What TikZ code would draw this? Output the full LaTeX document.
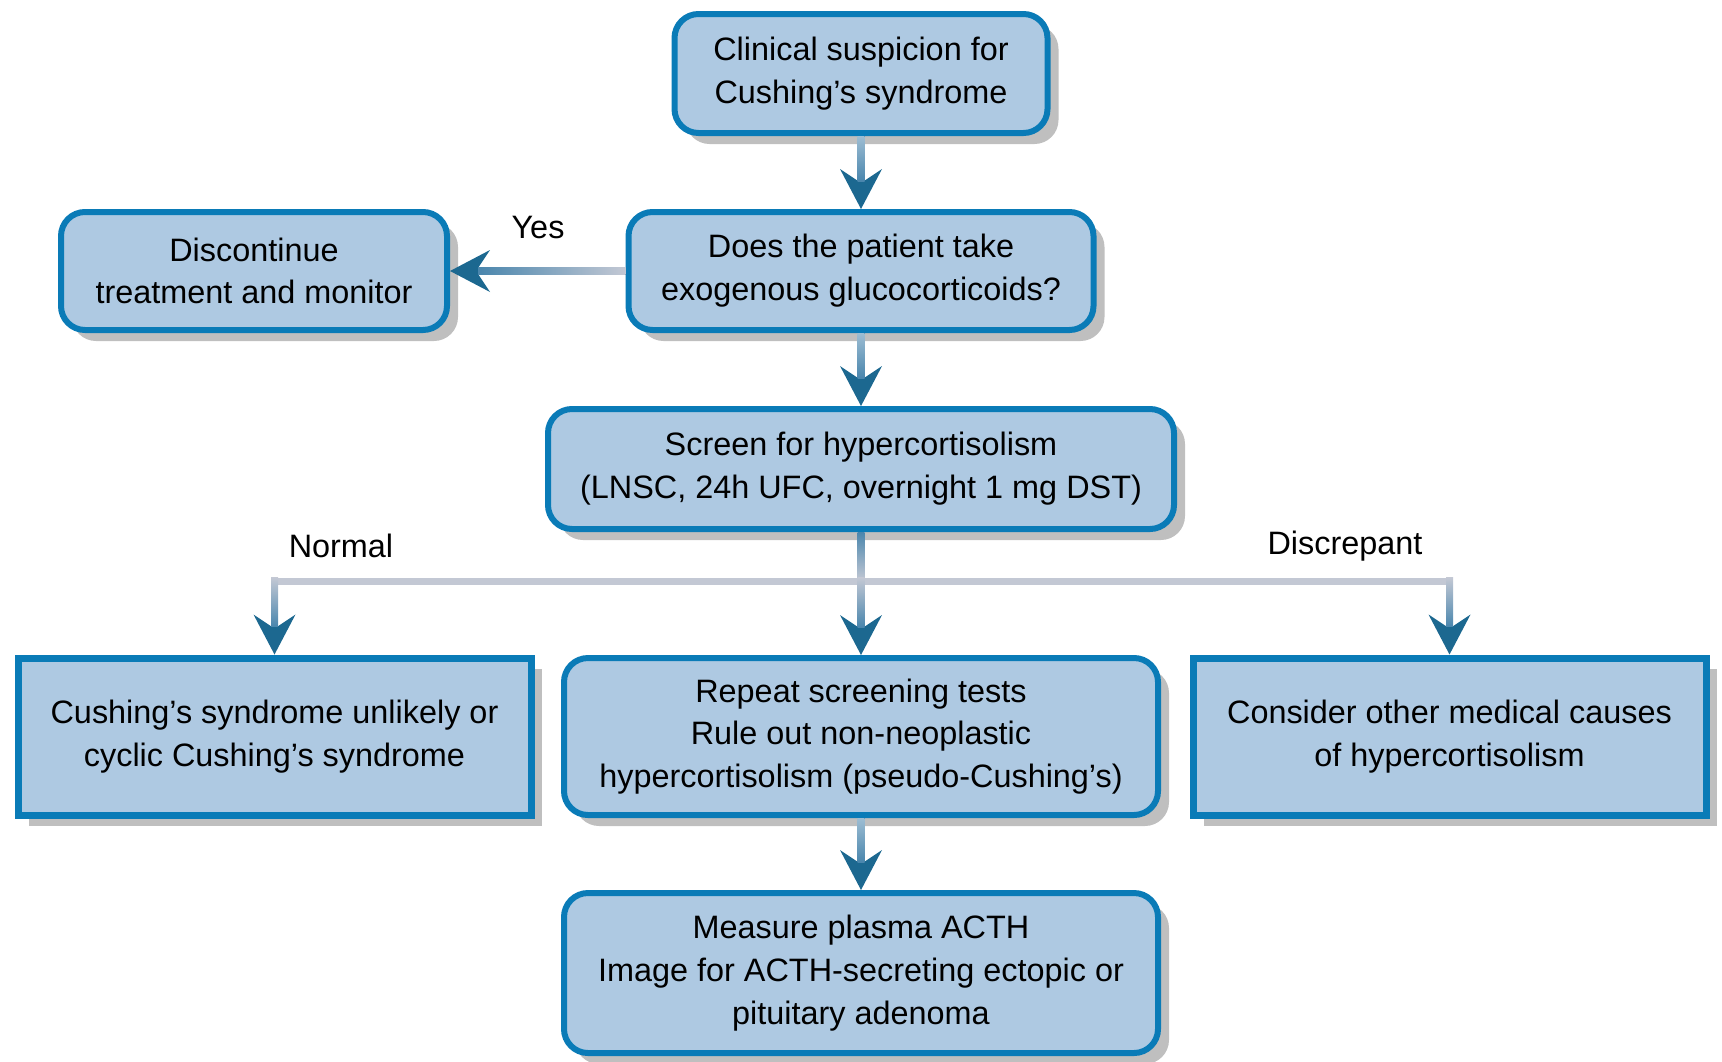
\documentclass[tikz,border=0pt]{standalone}
\usepackage{fontspec}
\setmainfont{Liberation Sans}
\usetikzlibrary{arrows.meta, calc, positioning, shadows}

\definecolor{boxfill}{HTML}{AEC9E2}
\definecolor{boxline}{HTML}{0A7BB7}
\definecolor{shadowgray}{HTML}{BFBFBF}
\definecolor{arrowdark}{HTML}{1C6890}
\definecolor{arrowmid}{HTML}{4A86AD}
\definecolor{arrowlight}{HTML}{9DBDD3}
\definecolor{shaftlight}{HTML}{C3C8D4}

\tikzset{
  box/.style={draw=boxline, fill=boxfill, line width=3pt, rounded corners=12pt,
    align=center, inner sep=4pt, font=\fontsize{16.2}{21.4}\selectfont,
    drop shadow={shadow xshift=5.5pt, shadow yshift=-5.5pt, fill=shadowgray, opacity=1}},
  sqbox/.style={box, sharp corners, line width=3.5pt},
  lbl/.style={font=\fontsize{16.2}{21.4}\selectfont},
  flow/.style={arrowdark, line width=3.5pt,
    -{Stealth[length=20pt, width=21pt, inset=7pt, line width=0pt]}},
  bar/.style={shaftlight, line width=3.5pt}
}

\begin{document}
\begin{tikzpicture}[x=0.5pt, y=-0.5pt]
        \useasboundingbox (0,0) rectangle (1722,1061);

        % boxes
        \node[box, minimum width=186.5pt, minimum height=59.5pt] (clin) at (861,73.5)
            {Clinical suspicion for\\Cushing’s syndrome};
        \node[box, minimum width=232.5pt, minimum height=59pt] (drug) at (861,271)
            {Does the patient take\\exogenous glucocorticoids?};
        \node[box, minimum width=193pt, minimum height=59pt] (stop) at (254,271)
            {Discontinue\\treatment and monitor};
        \node[box, minimum width=313pt, minimum height=60pt] (screen) at (861,469)
            {Screen for hypercortisolism\\(LNSC, 24h UFC, overnight 1 mg DST)};
        \node[sqbox, minimum width=256.5pt, minimum height=78.5pt] (unlikely) at (274.5,736.5)
            {Cushing’s syndrome unlikely or\\cyclic Cushing’s syndrome};
        \node[box, minimum width=297pt, minimum height=78.5pt] (retest) at (861,736.5)
            {Repeat screening tests\\Rule out non-neoplastic\\hypercortisolism (pseudo-Cushing’s)};
        \node[sqbox, minimum width=256.5pt, minimum height=78.5pt] (other) at (1449.5,736.5)
            {Consider other medical causes\\of hypercortisolism};
        \node[box, minimum width=297pt, minimum height=80pt] (acth) at (861,973)
            {Measure plasma ACTH\\Image for ACTH-secreting ectopic or\\pituitary adenoma};

        % labels
        \node[lbl] (yes) at (538,228) {Yes};
        \node[lbl] (normal) at (341,546) {Normal};
        \node[lbl] (discr) at (1345,546) {Discrepant};

        % branch points
        \coordinate (jn) at (861,581);
        \coordinate (jl) at (unlikely.north |- jn);
        \coordinate (jr) at (other.north |- jn);

        % straight arrows
        \foreach \a/\b in {clin/drug, drug/screen, retest/acth} {
            \draw[flow] (\a) -- (\b);
            \shade[top color=arrowlight, bottom color=arrowmid]
                ($(\a.south)+(-1.75pt,0)$) rectangle ($(\b.north)+(1.75pt,14pt)$);
        }

        % yes arrow
        \draw[flow] (drug) -- (stop);
        \shade[left color=arrowmid, right color=shaftlight]
            ($(stop.east)+(14pt,-1.75pt)$) rectangle ($(drug.west)+(0,1.75pt)$);

        % split after screening
        \draw[bar] (screen) -- (jn);
        \shade[top color=arrowmid, bottom color=shaftlight]
            ($(screen.south)+(-1.75pt,0)$) rectangle ($(jn)+(1.75pt,0)$);
        \draw[bar, line cap=rect] (jl) -- (jr);
        \foreach \p/\b in {jl/unlikely, jn/retest, jr/other} {
            \draw[flow] (\p) -- (\b);
            \shade[top color=shaftlight, bottom color=arrowmid]
                ($(\p)+(-1.75pt,1.75pt)$) rectangle ($(\b.north)+(1.75pt,14pt)$);
        }
    \end{tikzpicture}
\end{document}
